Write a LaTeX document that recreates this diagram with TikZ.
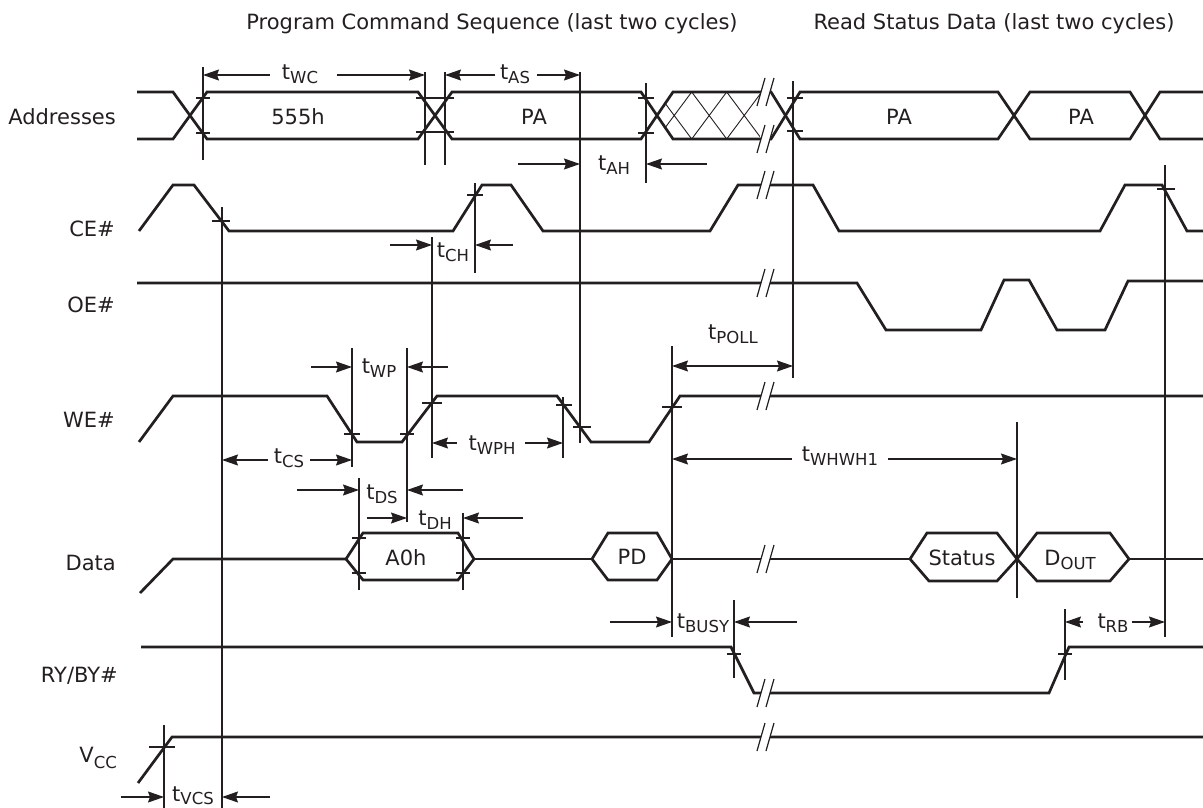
\documentclass[tikz,border=0pt]{standalone}
\usepackage{fontspec}
\setmainfont{DejaVu Sans}
\usetikzlibrary{arrows.meta}
\definecolor{ink}{RGB}{35,31,32}
\newcommand\subfont{\fontsize{16.5bp}{19bp}\selectfont}
\newcommand\tsb[3][4bp]{#2\raisebox{-#1}{\subfont #3}}
\newcommand\tk[3]{\draw[hair] (#1-#3,#2)--(#1+#3,#2);}
\begin{document}
\begin{tikzpicture}[x=1bp,y=-1bp,ink,font=\fontsize{21bp}{25bp}\selectfont,
  sig/.style={line width=2.7bp,line join=miter},
  hair/.style={line width=1.2bp},
  hat/.style={line width=0.9bp},
  dimr/.style={hair,-{Stealth[length=16bp,width=11bp,inset=2bp]}},
  dimb/.style={hair,{Stealth[length=16bp,width=11bp,inset=2bp]}-{Stealth[length=16bp,width=11bp,inset=2bp]}},
  lbl/.style={inner sep=0pt,anchor=base},
  sname/.style={inner sep=0pt,anchor=base east},
  brk/.pic={\fill[white] (-4.5,-3) rectangle (4.5,3);
            \draw[hair] (-8,14)--(0,-14) (1,14)--(9,-14);}]
\useasboundingbox (0,0) rectangle (1203,808);

% titles
\node[lbl] (title1) at (492,30) {Program Command Sequence (last two cycles)};
\node[lbl] (title2) at (994,30) {Read Status Data (last two cycles)};

% signal names
\node[sname] (nAddr) at (116,124) {Addresses};
\node[sname] (nCE) at (115,236) {CE\#};
\node[sname] (nOE) at (115,312) {OE\#};
\node[sname] (nWE) at (115,427) {WE\#};
\node[sname] (nData) at (116,570) {Data};
\node[sname] (nRY) at (118,682) {RY/BY\#};
\node[sname] (nVCC) at (117,762) {\tsb[6bp]{V}{CC}};

% Addresses bus
\draw[sig] (137,92)--(173,92)--(207,139)--(418,139)--(452,92)--(641,92)--(673,139)--(771,139)--(800,92)--(998,92)--(1030,139)--(1130,139)--(1160,92)--(1203,92);
\draw[sig] (137,139)--(173,139)--(207,92)--(418,92)--(452,139)--(641,139)--(673,92)--(771,92)--(800,139)--(998,139)--(1030,92)--(1130,92)--(1160,139)--(1203,139);
\begin{scope}
\clip (657,115.5)--(673,92)--(760,92)--(760,139)--(673,139)--cycle;
\foreach \j in {-1,0,1,2,3}{
  \draw[hat] (656.7+35*\j,92)--(691.7+35*\j,139) (656.7+35*\j,139)--(691.7+35*\j,92);}
\end{scope}
\node[lbl] (a1) at (298,124) {555h};
\node[lbl] (a2) at (534,124) {PA};
\node[lbl] (a3) at (899,124) {PA};
\node[lbl] (a4) at (1081,124) {PA};

% CE#
\draw[sig] (139,231)--(173,185)--(194,185)--(229,231)--(453,231)--(482,185)--(511,185)--(543,231)--(710,231)--(738,185)--(813,185)--(839,231)--(1100,231)--(1125,185)--(1162,185)--(1187,231)--(1203,231);
% OE#
\draw[sig] (137,283)--(857,283)--(886,330)--(981,330)--(1004,280)--(1029,280)--(1057,330)--(1105,330)--(1128,281)--(1203,281);
% WE#
\draw[sig] (139,442)--(173,396)--(327,396)--(357,442)--(402,442)--(437,396)--(557,396)--(591,442)--(649,442)--(680,396)--(1203,396);
% Data
\draw[sig] (140,593)--(173,559)--(346,559);
\draw[sig] (346,559)--(363,533)--(458,533)--(474,559)--(458,580)--(363,580)--cycle;
\draw[sig] (474,559)--(592,559);
\draw[sig] (592,559)--(608,533)--(657,533)--(672,559)--(657,580)--(608,580)--cycle;
\draw[sig] (672,559)--(910,559);
\draw[sig] (910,559)--(927,533)--(997,533)--(1017,559)--(997,581)--(929,581)--cycle;
\draw[sig] (1017,559)--(1037,533)--(1110,533)--(1129,559)--(1110,581)--(1037,581)--cycle;
\draw[sig] (1129,559)--(1203,559);
\node[lbl] (d1) at (406,565) {A0h};
\node[lbl] (d2) at (632,564) {PD};
\node[lbl] (d3) at (962,565) {Status};
\node[lbl] (d4) at (1070,565) {\tsb{D}{OUT}};
% RY/BY#
\draw[sig] (141,647)--(731,647)--(754,693)--(1049,693)--(1069,647)--(1203,647);
% VCC
\draw[sig] (138,783)--(172,737)--(1203,737);

% breaks
\foreach \yy in {92,139,185,283,396,559,693,737}{\pic at (765,\yy) {brk};}

% vertical reference lines
\draw[hair] (203,67)--(203,160);
\draw[hair] (425,72)--(425,165);
\draw[hair] (445,72)--(445,165);
\draw[hair] (646,83)--(646,183);
\draw[hair] (793,81)--(793,378);
\draw[hair] (580,72)--(580,443);
\draw[hair] (222,207)--(222,808);
\draw[hair] (475,183)--(475,273);
\draw[hair] (1165,165)--(1165,637);
\draw[hair] (432,237)--(432,458);
\draw[hair] (352,348)--(352,467);
\draw[hair] (407,348)--(407,522);
\draw[hair] (563,397)--(563,458);
\draw[hair] (672,346)--(672,637);
\draw[hair] (359,478)--(359,590);
\draw[hair] (463,513)--(463,590);
\draw[hair] (1017,422)--(1017,598);
\draw[hair] (734,600)--(734,678);
\draw[hair] (1065,609)--(1065,680);
\draw[hair] (164,725)--(164,808);

% ticks
\tk{203}{98}{7}\tk{203}{133}{7}
\tk{435}{98}{19}\tk{435}{132}{19}
\tk{646}{98}{8}\tk{646}{133}{8}
\tk{795}{98}{8}\tk{795}{131}{8}
\tk{221}{221}{9}\tk{475}{195}{8}\tk{1166}{189}{9}
\tk{352}{434}{8}\tk{407}{434}{7}\tk{432}{403}{10}
\tk{564}{405}{8}\tk{582}{427}{9}\tk{672}{407}{10}
\tk{359}{538}{7}\tk{359}{573}{7}\tk{463}{538}{7}\tk{463}{573}{7}
\tk{734}{654}{7}\tk{1065}{654}{7}
\tk{162}{747}{13}

% dimension arrows and labels
\draw[dimr] (270,75)--(203,75); \draw[dimr] (337,75)--(425,75);
\node[lbl] (twc) at (300,80) {\tsb{t}{WC}};
\draw[dimr] (495,75)--(445,75); \draw[dimr] (537,75)--(580,75);
\node[lbl] (tas) at (515,80) {\tsb{t}{AS}};
\draw[dimr] (518,164)--(580,164); \draw[dimr] (707,164)--(646,164);
\node[lbl] (tah) at (614,170) {\tsb{t}{AH}};
\draw[dimr] (390,245)--(432,245); \draw[dimr] (513,245)--(475,245);
\node[lbl] (tch) at (453,257) {\tsb{t}{CH}};
\draw[dimr] (311,367)--(352,367); \draw[dimr] (448,367)--(407,367);
\node[lbl] (twp) at (379,373) {\tsb{t}{WP}};
\draw[dimr] (268,460)--(222,460); \draw[dimr] (310,460)--(352,460);
\node[lbl] (tcs) at (289,463) {\tsb{t}{CS}};
\draw[dimr] (297,490)--(359,490); \draw[dimr] (463,490)--(407,490);
\node[lbl] (tds) at (382,499) {\tsb{t}{DS}};
\draw[dimr] (367,518)--(407,518); \draw[dimr] (523,518)--(463,518);
\node[lbl] (tdh) at (435,525) {\tsb{t}{DH}};
\draw[dimr] (457,443)--(432,443); \draw[dimr] (525,443)--(563,443);
\node[lbl] (twph) at (492,450) {\tsb{t}{WPH}};
\draw[dimb] (672,366)--(793,366);
\node[lbl] (tpoll) at (733,339) {\tsb{t}{POLL}};
\draw[dimr] (792,459)--(672,459); \draw[dimr] (888,459)--(1017,459);
\node[lbl] (twhwh) at (840,461) {\tsb{t}{WHWH1}};
\draw[dimr] (610,622)--(672,622); \draw[dimr] (797,622)--(734,622);
\node[lbl] (tbusy) at (703,628) {\tsb{t}{BUSY}};
\draw[dimr] (1083,622)--(1065,622); \draw[dimr] (1132,622)--(1165,622);
\node[lbl] (trb) at (1113,628) {\tsb{t}{RB}};
\draw[dimr] (121,797)--(164,797); \draw[dimr] (270,797)--(222,797);
\node[lbl] (tvcs) at (193,801) {\tsb[3bp]{t}{VCS}};
\end{tikzpicture}
\end{document}
